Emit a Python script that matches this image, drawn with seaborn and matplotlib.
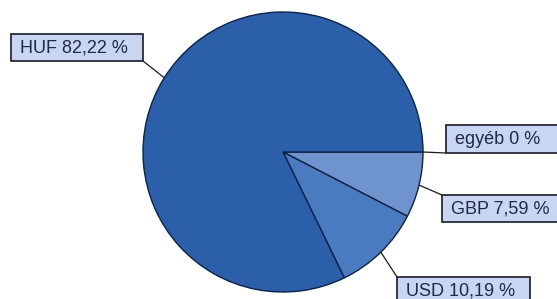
import numpy as np
import matplotlib
matplotlib.use('Agg')
import matplotlib.pyplot as plt
from matplotlib.patches import Rectangle
import seaborn as sns

# currency breakdown (%), drawn clockwise from 3 o'clock
currencies = ['egyéb', 'GBP', 'USD', 'HUF']
shares = [0.0, 7.59, 10.19, 82.22]
labels = ['egyéb 0 %', 'GBP 7,59 %', 'USD 10,19 %', 'HUF 82,22 %']
colors = ['#6f93cd', '#6f93cd', '#4a7bc1', '#2b5fa9']

sns.set_theme(style='white')
plt.rcParams['font.family'] = ['Liberation Sans', 'DejaVu Sans']

fig = plt.figure(figsize=(5.57, 2.99), dpi=100)
ax = fig.add_axes([0, 0, 1, 1])

cx, cy, r = 283, 152, 140
wedges, _ = ax.pie(shares, colors=colors, startangle=0, counterclock=True,
                   center=(cx, cy), radius=r,
                   wedgeprops=dict(edgecolor='#0d2347', linewidth=1.0))
ax.set_xlim(0, 557)
ax.set_ylim(299, 0)
ax.set_aspect('auto')
ax.axis('off')

# label boxes (left, top, right, bottom) in pixel layout + leader target corner
boxes = {
    'egyéb': ((446, 125, 562, 153), (446, 153)),
    'GBP': ((442, 195, 562, 222), (442, 195)),
    'USD': ((397, 277, 530, 305), (397, 277)),
    'HUF': ((11, 34, 143, 61), (143, 61)),
}

for w, cur, lab in zip(wedges, currencies, labels):
    mid = np.deg2rad((w.theta1 + w.theta2) / 2)
    px, py = cx + r * np.cos(mid), cy + r * np.sin(mid)
    (x0, y0, x1, y1), corner = boxes[cur]
    ax.plot([px, corner[0]], [py, corner[1]], color='#1a1a1a', lw=0.9,
            solid_capstyle='butt', zorder=1)
    ax.add_patch(Rectangle((x0, y0), x1 - x0, y1 - y0, facecolor='#c8d6f1',
                           edgecolor='#1a1a2a', lw=1.2, zorder=3))
    ax.text(x0 + 9, (y0 + y1) / 2 + 0.5, lab, ha='left', va='center',
            fontsize=13, color='#1f2a44', zorder=4)

fig.savefig('out.png', dpi=100)
